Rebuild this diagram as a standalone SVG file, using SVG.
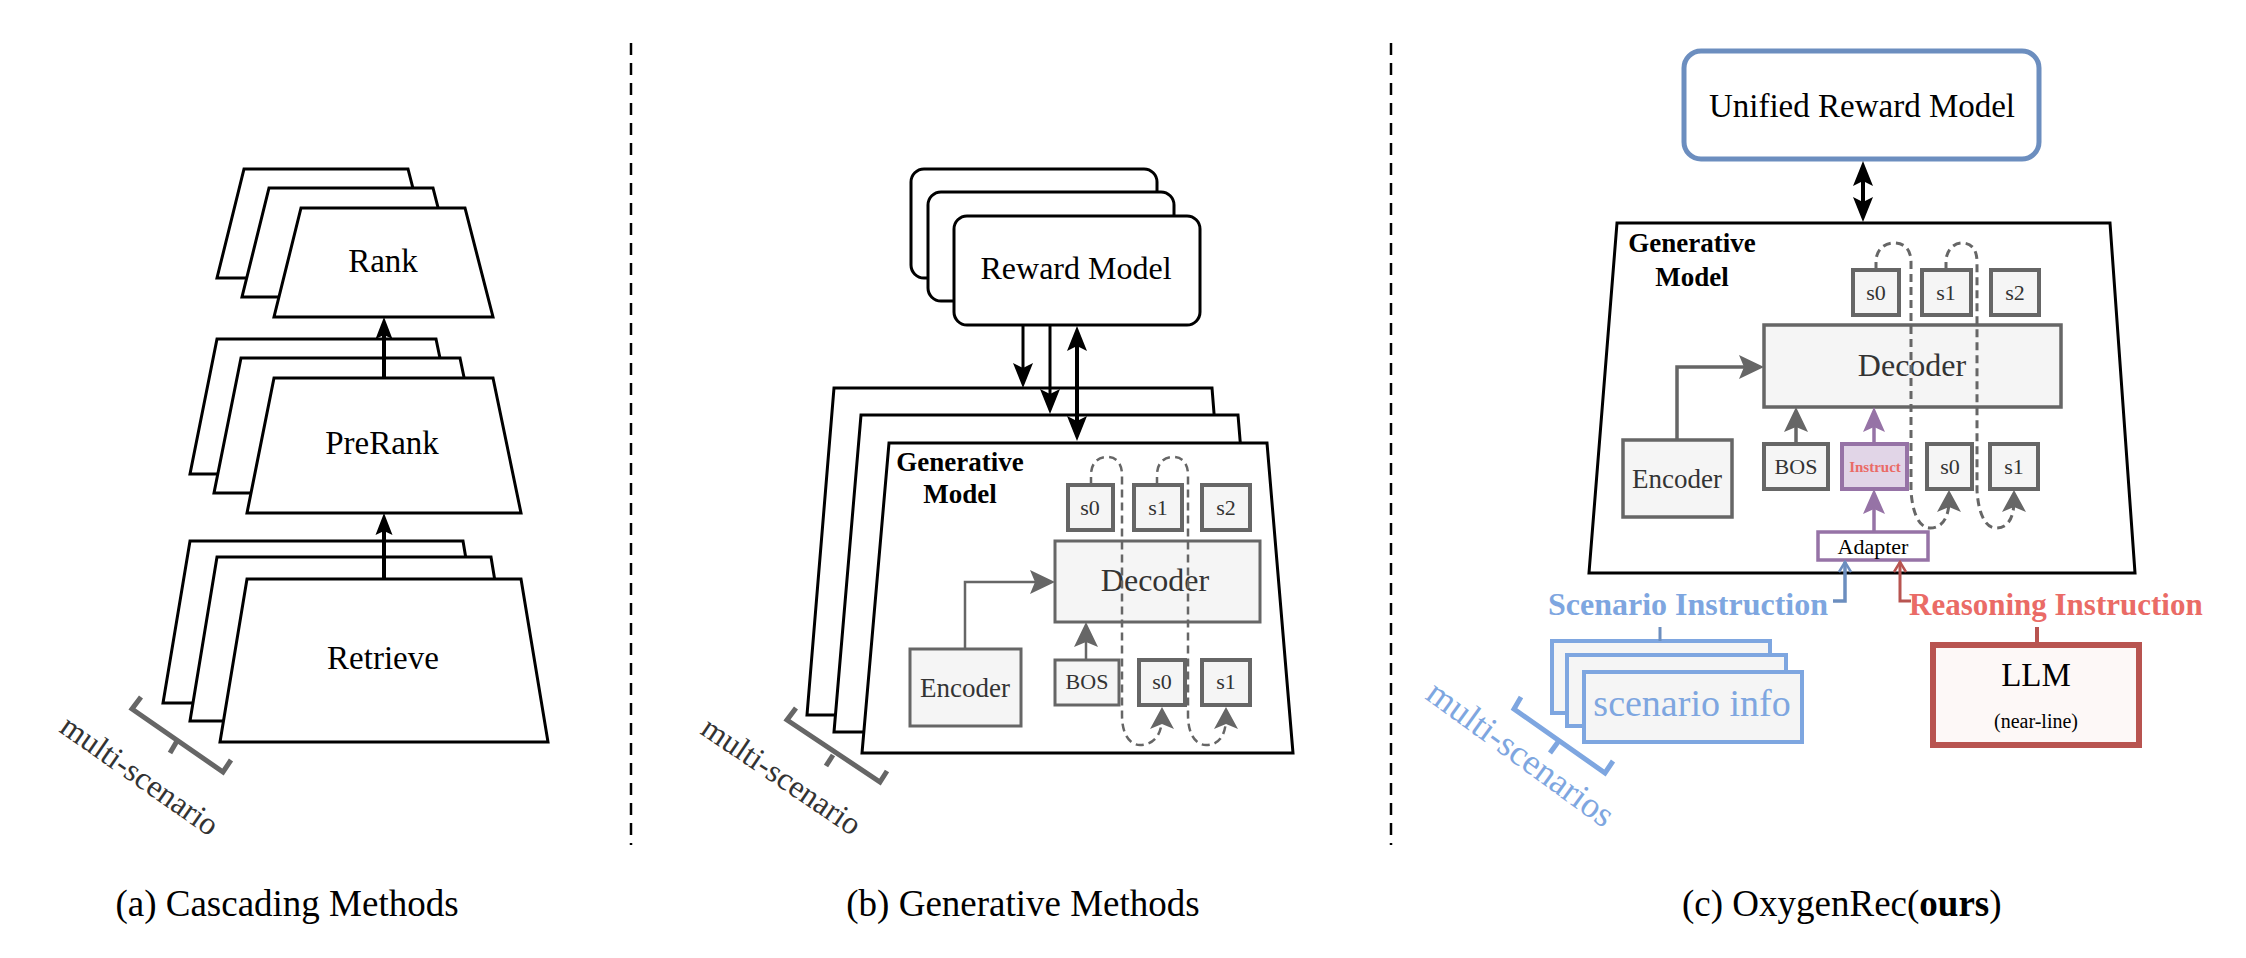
<svg xmlns="http://www.w3.org/2000/svg" width="2246" height="958" viewBox="0 0 2246 958" font-family="'Liberation Serif', Tinos, 'Times New Roman', 'DejaVu Serif', serif">
<style>
text{font-family:"Liberation Serif",Tinos,"Times New Roman","DejaVu Serif",serif}
.c{text-anchor:middle}
.trap{fill:#fff;stroke:#000;stroke-width:3}
.rm{fill:#fff;stroke:#000;stroke-width:3}
.gb{fill:#f5f5f5;stroke:#666;stroke-width:3}
.gb2{fill:#f5f5f5;stroke:#666;stroke-width:3.5}
.sb{fill:#f5f5f5;stroke:#666;stroke-width:4}
.gt{fill:#333}
.ck{fill:none;stroke:#000;stroke-width:4}
.ck3{fill:none;stroke:#000;stroke-width:3}
.cg{fill:none;stroke:#666;stroke-width:2.5}
.cg2{fill:none;stroke:#666;stroke-width:3.5}
.cp{fill:none;stroke:#9673a6;stroke-width:3.5}
.dl{fill:none;stroke:#666;stroke-width:2.5;stroke-dasharray:8 5}
.dl2{fill:none;stroke:#666;stroke-width:3;stroke-dasharray:8 5}
.sep{fill:none;stroke:#000;stroke-width:2.5;stroke-dasharray:12 8}
.brg{fill:none;stroke:#666;stroke-width:5}
.brb{fill:none;stroke:#7ea6e0;stroke-width:5}
.si{fill:#f5f5f5;stroke:#7ea6e0;stroke-width:4}
</style>
<defs>
<marker id="mk1" markerUnits="userSpaceOnUse" viewBox="-14 -11 26 22" markerWidth="26" markerHeight="22" refX="0" refY="0" orient="auto"><path d="M10,0 L-12,-8.5 L-8,0 L-12,8.5 Z" fill="#000"/></marker>
<marker id="mk2" markerUnits="userSpaceOnUse" viewBox="-17 -12 29 24" markerWidth="29" markerHeight="24" refX="0" refY="0" orient="auto-start-reverse"><path d="M10,0 L-15,-10 L-10,0 L-15,10 Z" fill="#000"/></marker>
<marker id="mkg" markerUnits="userSpaceOnUse" viewBox="-17 -14 29 28" markerWidth="29" markerHeight="28" refX="0" refY="0" orient="auto"><path d="M10,0 L-15,-12 L-10,0 L-15,12 Z" fill="#666"/></marker>
<marker id="mkp" markerUnits="userSpaceOnUse" viewBox="-17 -14 29 28" markerWidth="29" markerHeight="28" refX="0" refY="0" orient="auto"><path d="M10,0 L-15,-11 L-10,0 L-15,11 Z" fill="#9673a6"/></marker>
<marker id="mkd" markerUnits="userSpaceOnUse" viewBox="-14 -14 26 28" markerWidth="26" markerHeight="28" refX="0" refY="0" orient="auto"><path d="M10,0 L-12,-12 L-7,0 L-12,12 Z" fill="#666"/></marker>
<marker id="mob" markerUnits="userSpaceOnUse" viewBox="-12 -8 14 16" markerWidth="14" markerHeight="16" refX="0" refY="0" orient="auto"><path d="M-10,-6 L0,0 L-10,6" fill="none" stroke="#6c8ebf" stroke-width="2.5"/></marker>
<marker id="mor" markerUnits="userSpaceOnUse" viewBox="-12 -8 14 16" markerWidth="14" markerHeight="16" refX="0" refY="0" orient="auto"><path d="M-10,-6 L0,0 L-10,6" fill="none" stroke="#b85450" stroke-width="2.5"/></marker>
</defs>

<g id="separators">
<line class="sep" x1="631" y1="43" x2="631" y2="845"/>
<line class="sep" x1="1391" y1="43" x2="1391" y2="845"/>
</g>

<!-- Panel a -->
<g id="a-rank">
<polygon class="trap" points="244,169 408,169 436,278 217,278"/>
<polygon class="trap" points="269,188 433,188 461,297 242,297"/>
<polygon class="trap" points="301,208 465,208 493,317 274,317"/>
<text class="c" x="383" y="272" font-size="33">Rank</text>
</g>
<g id="a-prerank">
<polygon class="trap" points="217,339 436,339 464,474 190,474"/>
<polygon class="trap" points="241,358 460,358 488,493 214,493"/>
<polygon class="trap" points="274,378 493,378 521,513 247,513"/>
<text class="c" x="382" y="454" font-size="33">PreRank</text>
</g>
<g id="a-retrieve">
<polygon class="trap" points="190,541 463,541 490,703 163,703"/>
<polygon class="trap" points="217,557 491,557 518,721 190,721"/>
<polygon class="trap" points="247,579 521,579 548,742 220,742"/>
<text class="c" x="383" y="669" font-size="33">Retrieve</text>
</g>
<g id="a-multi">
<polyline class="brg" points="141,697 132,709 223,772 231,760"/>
<line class="brg" x1="177" y1="741" x2="170" y2="753"/>
<text x="58" y="731" font-size="32" fill="#333" transform="rotate(35 58 731)">multi-scenario</text>
</g>

<!-- Panel b -->
<g id="b-reward">
<rect class="rm" x="911" y="169" width="246" height="109" rx="13"/>
<rect class="rm" x="928" y="192" width="246" height="109" rx="13"/>
<rect class="rm" x="954" y="216" width="246" height="109" rx="13"/>
<text class="c" x="1076" y="279" font-size="32">Reward Model</text>
</g>
<g id="b-frames">
<polygon class="trap" points="834,388 1212,388 1238,715 807,715"/>
<polygon class="trap" points="861,415 1238,415 1264,732 834,732"/>
<polygon class="trap" points="889,443 1267,443 1293,753 862,753"/>
</g>
<g id="b-title">
<text class="c" x="960" y="471" font-size="27" font-weight="bold">Generative</text>
<text class="c" x="960" y="503" font-size="27" font-weight="bold">Model</text>
</g>
<g id="b-encoder"><rect class="gb" x="910" y="649" width="111" height="77"/><text class="c gt" x="965" y="697" font-size="27">Encoder</text></g>
<g id="b-decoder"><rect class="gb" x="1055" y="541" width="205" height="81"/><text class="c gt" x="1155" y="591" font-size="32">Decoder</text></g>
<g id="b-s0top"><rect class="sb" x="1068" y="485" width="45" height="45"/><text class="c gt" x="1090" y="515" font-size="22">s0</text></g>
<g id="b-s1top"><rect class="sb" x="1134" y="485" width="48" height="45"/><text class="c gt" x="1158" y="515" font-size="22">s1</text></g>
<g id="b-s2top"><rect class="sb" x="1202" y="485" width="48" height="45"/><text class="c gt" x="1226" y="515" font-size="22">s2</text></g>
<g id="b-bos"><rect class="gb" x="1055" y="660" width="64" height="45"/><text class="c gt" x="1087" y="689" font-size="22">BOS</text></g>
<g id="b-s0bot"><rect class="sb" x="1139" y="660" width="46" height="45"/><text class="c gt" x="1162" y="689" font-size="22">s0</text></g>
<g id="b-s1bot"><rect class="sb" x="1202" y="660" width="48" height="45"/><text class="c gt" x="1226" y="689" font-size="22">s1</text></g>
<g id="b-multi">
<polyline class="brg" points="796,708 787,720 880,782 887,771"/>
<line class="brg" x1="833" y1="755" x2="826" y2="766"/>
<text x="699" y="733" font-size="32" fill="#333" transform="rotate(34 699 733)">multi-scenario</text>
</g>

<!-- Panel c -->
<g id="c-unified">
<rect x="1684" y="51" width="355" height="108" rx="17" fill="#fff" stroke="#6c8ebf" stroke-width="5"/>
<text class="c" x="1862" y="117" font-size="33">Unified Reward Model</text>
</g>
<g id="c-frame"><polygon class="trap" points="1617,223 2110,223 2135,573 1589,573"/></g>
<g id="c-title">
<text class="c" x="1692" y="252" font-size="27" font-weight="bold">Generative</text>
<text class="c" x="1692" y="286" font-size="27" font-weight="bold">Model</text>
</g>
<g id="c-encoder"><rect class="gb2" x="1623" y="440" width="109" height="77"/><text class="c gt" x="1677" y="488" font-size="27">Encoder</text></g>
<g id="c-decoder"><rect class="gb2" x="1764" y="325" width="297" height="82"/><text class="c gt" x="1912" y="376" font-size="32">Decoder</text></g>
<g id="c-s0top"><rect class="sb" x="1853" y="270" width="46" height="45"/><text class="c gt" x="1876" y="300" font-size="22">s0</text></g>
<g id="c-s1top"><rect class="sb" x="1922" y="270" width="49" height="45"/><text class="c gt" x="1946" y="300" font-size="22">s1</text></g>
<g id="c-s2top"><rect class="sb" x="1991" y="270" width="48" height="45"/><text class="c gt" x="2015" y="300" font-size="22">s2</text></g>
<g id="c-bos"><rect class="sb" x="1764" y="444" width="64" height="45"/><text class="c gt" x="1796" y="474" font-size="22">BOS</text></g>
<g id="c-instruct"><rect x="1842" y="444" width="65" height="45" fill="#e1d5e7" stroke="#9673a6" stroke-width="4"/><text class="c" x="1875" y="472" font-size="15" font-weight="bold" fill="#ea6b66">Instruct</text></g>
<g id="c-s0bot"><rect class="sb" x="1927" y="444" width="45" height="45"/><text class="c gt" x="1950" y="474" font-size="22">s0</text></g>
<g id="c-s1bot"><rect class="sb" x="1990" y="444" width="48" height="45"/><text class="c gt" x="2014" y="474" font-size="22">s1</text></g>
<g id="c-adapter"><rect x="1818" y="532" width="110" height="28" fill="#fff" stroke="#9673a6" stroke-width="3.5"/><text class="c" x="1873" y="554" font-size="22">Adapter</text></g>
<g id="c-scen-label"><text x="1548" y="615" font-size="32" font-weight="bold" fill="#7ea6e0">Scenario Instruction</text></g>
<g id="c-reas-label"><text x="1909" y="615" font-size="31" font-weight="bold" fill="#ea6b66">Reasoning Instruction</text></g>
<g id="c-scenario-info">
<rect class="si" x="1552" y="641" width="218" height="72"/>
<rect class="si" x="1567" y="655" width="219" height="71"/>
<rect class="si" x="1584" y="672" width="218" height="70"/>
<text class="c" x="1692" y="716" font-size="38" fill="#7ea6e0">scenario info</text>
</g>
<g id="c-llm">
<rect x="1933" y="645" width="206" height="100" fill="#fdf8f7" stroke="#b85450" stroke-width="6"/>
<text class="c" x="2036" y="686" font-size="33">LLM</text>
<text class="c" x="2036" y="728" font-size="20">(near-line)</text>
</g>
<g id="c-multi">
<polyline class="brb" points="1521,697 1514,709 1605,773 1613,761"/>
<line class="brb" x1="1558" y1="742" x2="1550" y2="753"/>
<text x="1424" y="698" font-size="36" fill="#7ea6e0" transform="rotate(36 1424 698)">multi-scenarios</text>
</g>

<g id="connectors">
<path class="ck" d="M384,579 V523" marker-end="url(#mk1)"/>
<path class="ck" d="M384,378 V327" marker-end="url(#mk1)"/>
<path class="ck3" d="M1023,325 V378" marker-end="url(#mk2)"/>
<path class="ck3" d="M1050,325 V404" marker-end="url(#mk2)"/>
<path class="ck" d="M1077,336 V431" marker-start="url(#mk2)" marker-end="url(#mk2)"/>
<path class="cg" d="M965,649 V582 H1045" marker-end="url(#mkg)"/>
<path class="cg" d="M1086,660 V632" marker-end="url(#mkg)"/>
<path class="dl" d="M1091,485 V475 C1091,463 1098,457 1107,457 C1117,457 1122,464 1122,475 V715 C1122,735 1130,745 1140,745 C1152,745 1162,737 1162,717" marker-end="url(#mkd)"/>
<path class="dl" d="M1157,485 V475 C1157,463 1164,457 1173,457 C1183,457 1188,464 1188,475 V715 C1188,735 1196,745 1206,745 C1218,745 1226,737 1226,717" marker-end="url(#mkd)"/>
<path class="ck" d="M1863,171 V212" marker-start="url(#mk2)" marker-end="url(#mk2)"/>
<path class="cg2" d="M1677,440 V367 H1754" marker-end="url(#mkg)"/>
<path class="cg2" d="M1796,444 V417" marker-end="url(#mkg)"/>
<path class="cp" d="M1874,444 V417" marker-end="url(#mkp)"/>
<path class="cp" d="M1874,532 V499" marker-end="url(#mkp)"/>
<path class="dl2" d="M1876,270 V262 C1876,250 1884,243 1894,243 C1905,243 1911,250 1911,262 V490 C1912,510 1918,528 1930,528 C1942,528 1949,518 1949,500" marker-end="url(#mkd)"/>
<path class="dl2" d="M1946,270 V262 C1946,250 1954,243 1962,243 C1972,243 1977,250 1977,262 V490 C1978,510 1984,528 1996,528 C2008,528 2014,518 2014,500" marker-end="url(#mkd)"/>
<path d="M1833,601 H1845 V562" fill="none" stroke="#6c8ebf" stroke-width="3.5" marker-end="url(#mob)"/>
<path d="M1911,601 H1900 V562" fill="none" stroke="#b85450" stroke-width="3" marker-end="url(#mor)"/>
<path d="M1660,627 V641" fill="none" stroke="#6c8ebf" stroke-width="3"/>
<path d="M2037,627 V645" fill="none" stroke="#b85450" stroke-width="4"/>
</g>

<g id="captions">
<text class="c" x="287" y="916" font-size="37">(a) Cascading Methods</text>
<text class="c" x="1023" y="916" font-size="37">(b) Generative Methods</text>
<text x="1682" y="916" font-size="37">(c) OxygenRec(<tspan font-weight="bold">ours</tspan>)</text>
</g>
</svg>
